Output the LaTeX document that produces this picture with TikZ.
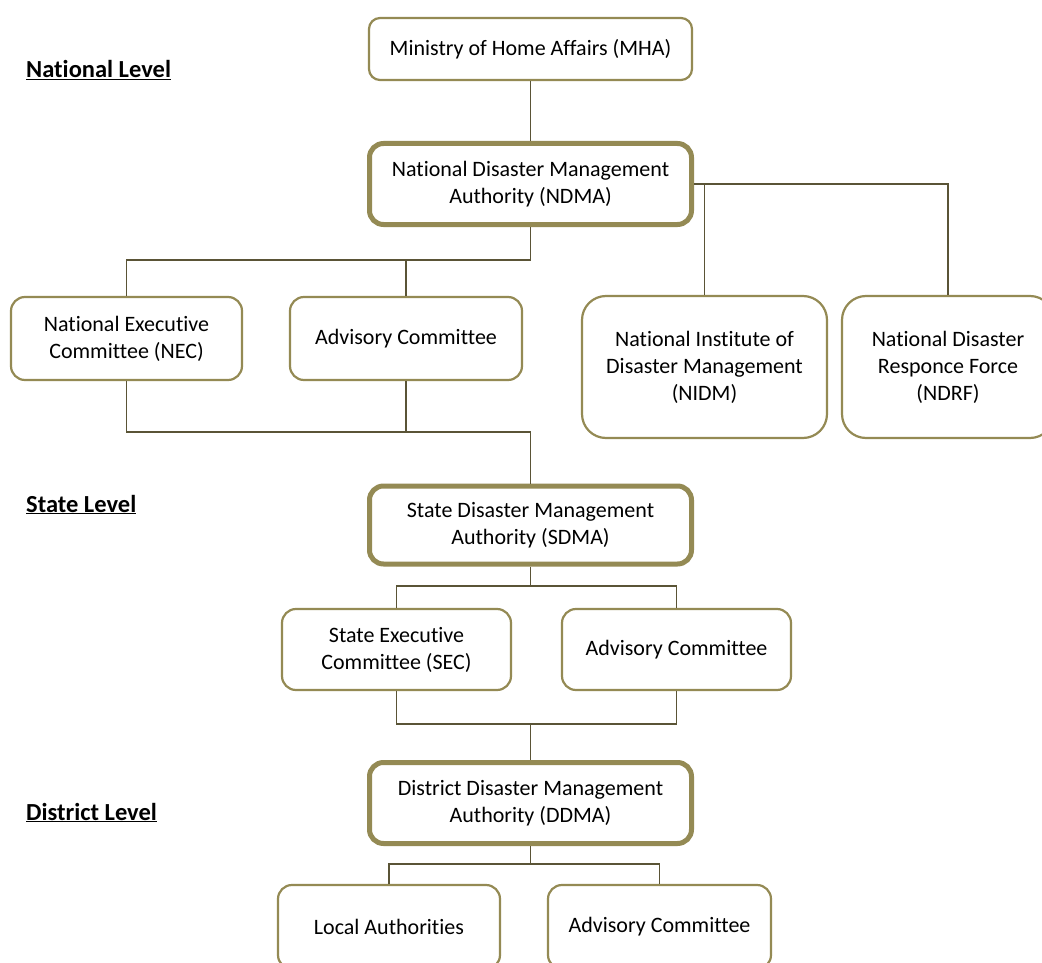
\documentclass[tikz,border=0pt]{standalone}
\usepackage{fontspec}
\setmainfont{Carlito}[RawFeature={-liga;-clig;-calt;-dlig}]
\definecolor{boxc}{HTML}{948A54}
\definecolor{linec}{HTML}{5A5436}
\begin{document}
\begin{tikzpicture}[x=1pt,y=-1pt,
  box/.style={draw=boxc,line width=2.2pt,rectangle,align=center,inner sep=0pt,
    font=\fontsize{22}{27}\selectfont,fill=white},
  bigbox/.style={box,line width=5pt,rounded corners=14pt},
  conn/.style={draw=linec,line width=1.5pt},
  lvl/.style={anchor=base west,inner sep=0pt,font=\fontsize{24.5}{29}\selectfont\bfseries}]
\useasboundingbox[fill=white] (0,0) rectangle (1042,963);

\node[box,rounded corners=11pt,minimum width=323pt,minimum height=62pt] (mha) at (530.5,49) {Ministry of Home Affairs (MHA)};
\node[bigbox,minimum width=322pt,minimum height=81pt] (ndma) at (530.5,184) {National Disaster Management\\Authority (NDMA)};
\node[box,rounded corners=14pt,minimum width=231pt,minimum height=83pt] (nec) at (126.5,338.5) {National Executive\\Committee (NEC)};
\node[box,rounded corners=14pt,minimum width=232pt,minimum height=83pt] (adva) at (406,338.5) {Advisory Committee};
\node[box,rounded corners=24pt,minimum width=245pt,minimum height=142pt] (nidm) at (704.5,367) {National Institute of\\Disaster Management\\(NIDM)};
\node[box,rounded corners=24pt,minimum width=212pt,minimum height=142pt] (ndrf) at (948,367) {National Disaster\\Responce Force\\(NDRF)};
\node[bigbox,minimum width=322pt,minimum height=78pt] (sdma) at (530.5,525) {State Disaster Management\\Authority (SDMA)};
\node[box,rounded corners=14pt,minimum width=229pt,minimum height=81pt] (sec) at (396.5,649.5) {State Executive\\Committee (SEC)};
\node[box,rounded corners=14pt,minimum width=229pt,minimum height=81pt] (advb) at (676.5,649.5) {Advisory Committee};
\node[bigbox,minimum width=322pt,minimum height=81pt] (ddma) at (530.5,803) {District Disaster Management\\Authority (DDMA)};
\node[box,rounded corners=14pt,minimum width=222pt,minimum height=84pt] (la) at (389,927) {Local Authorities};
\node[box,rounded corners=14pt,minimum width=223pt,minimum height=84pt] (advc) at (659.5,927) {Advisory Committee};

\node[lvl] (lnat) at (26,78) {\underline{National Level}};
\node[lvl] (lsta) at (26,512) {\underline{State Level}};
\node[lvl] (ldis) at (26,820) {\underline{District Level}};

\draw[conn] (mha.south) -- (ndma.north);
\draw[conn] (ndma.south) -- (ndma.south |- 0,260) -| (nec.north);
\draw[conn] (adva.north) -- (adva.north |- 0,260);
\draw[conn] (ndma.east) -| (ndrf.north);
\draw[conn] (nidm.north) -- (nidm.north |- ndma.east);
\draw[conn] (nec.south) |- (sdma.north |- 0,432) -- (sdma.north);
\draw[conn] (adva.south) -- (adva.south |- 0,432);
\draw[conn] (sec.north) |- (advb.north |- 0,586) -- (advb.north);
\draw[conn] (sdma.south) -- (sdma.south |- 0,586);
\draw[conn] (sec.south) |- (advb.south |- 0,724) -- (advb.south);
\draw[conn] (ddma.north) -- (ddma.north |- 0,724);
\draw[conn] (la.north) |- (advc.north |- 0,864) -- (advc.north);
\draw[conn] (ddma.south) -- (ddma.south |- 0,864);
\end{tikzpicture}
\end{document}
